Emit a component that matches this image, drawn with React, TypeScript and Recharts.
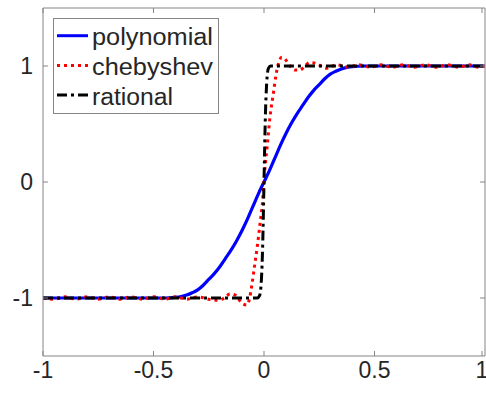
import React from 'react';
import { LineChart, Line, XAxis, YAxis, Legend } from 'recharts';

const polyX = [-1, -0.6, -0.5, -0.45, -0.4, -0.375, -0.35, -0.325, -0.3, -0.275, -0.25, -0.225, -0.2, -0.175, -0.15, -0.125, -0.1, -0.075, -0.05, -0.025, 0, 0.025, 0.05, 0.075, 0.1, 0.125, 0.15, 0.175, 0.2, 0.225, 0.25, 0.275, 0.3, 0.325, 0.35, 0.375, 0.4, 0.45, 0.5, 0.6, 1];
const polyY = [-1, -1, -1, -1, -0.995, -0.988, -0.975, -0.955, -0.93, -0.89, -0.84, -0.79, -0.73, -0.66, -0.59, -0.51, -0.42, -0.32, -0.21, -0.1, 0, 0.1, 0.21, 0.32, 0.42, 0.51, 0.59, 0.66, 0.73, 0.79, 0.84, 0.89, 0.93, 0.955, 0.975, 0.988, 0.995, 1, 1, 1, 1];

const chebX = [-1, -0.95, -0.9, -0.85, -0.8, -0.75, -0.7, -0.65, -0.6, -0.55, -0.5, -0.45, -0.4, -0.35, -0.3, -0.25, -0.207, -0.18, -0.154, -0.13, -0.1, -0.078, -0.065, -0.056, -0.041, -0.03, -0.018, -0.008, 0.005, 0.015, 0.027, 0.042, 0.055, 0.065, 0.08, 0.095, 0.11, 0.14, 0.163, 0.185, 0.208, 0.24, 0.28, 0.33, 0.38, 0.43, 0.48, 0.53, 0.58, 0.63, 0.68, 0.73, 0.78, 0.83, 0.88, 0.93, 0.97, 1];
const chebY = [-1, -1.01, -0.99, -1.01, -0.99, -1.01, -0.99, -1.01, -0.99, -1.01, -0.99, -1.01, -0.99, -1.01, -0.99, -1.01, -1.02, -1.0, -0.965, -0.975, -1.045, -1.06, -1.0, -0.9, -0.7, -0.55, -0.36, -0.2, 0.13, 0.32, 0.56, 0.76, 0.93, 1.02, 1.075, 1.06, 1.02, 0.965, 0.965, 1.0, 1.03, 1.02, 0.98, 1.01, 0.99, 1.01, 0.99, 1.01, 0.99, 1.01, 0.99, 1.01, 0.99, 1.01, 0.99, 1.01, 0.99, 1];

const ratX = [-1, -0.5, -0.03, -0.02, -0.012, -0.006, 0, 0.006, 0.012, 0.02, 0.03, 0.5, 1];
const ratY = [-1, -1, -1, -0.98, -0.85, -0.55, 0, 0.55, 0.85, 0.98, 1, 1, 1];

const seriesNames = ['polynomial', 'chebyshev', 'rational'];
const seriesColors = ['#0000ff', '#ff0000', '#000000'];
const seriesDash = ['', '3 4', '10 4 3 4'];
const legendTextWidths = [121, 121, 81];

const xTicks = [-1, -0.5, 0, 0.5, 1];
const xTickLabels = ['-1', '-0.5', '0', '0.5', '1'];
const yTicks = [-1, 0, 1];
const yTickLabels = ['-1', '0', '1'];

const toData = (xs: number[], ys: number[]) => xs.map((x, i) => ({ x, y: ys[i] }));
const polyData = toData(polyX, polyY);
const chebData = toData(chebX, chebY);
const ratData = toData(ratX, ratY);

const AXIS = '#858585';
const TEXT = '#262626';
const FONT = '"Liberation Sans", Arial, Helvetica, sans-serif';

const BottomTick = (props: any) => {
  const { x, y, payload } = props;
  const i = xTicks.indexOf(payload.value);
  return (
    <g>
      <line x1={x} x2={x} y1={y} y2={y - 5} stroke={AXIS} />
      <text x={x} y={y + 22} textAnchor="middle" fontSize={23} fill={TEXT} fontFamily={FONT}>
        {xTickLabels[i]}
      </text>
    </g>
  );
};
const TopTick = (props: any) => {
  const { x, y } = props;
  return <line x1={x} x2={x} y1={y} y2={y + 5} stroke={AXIS} />;
};
const LeftTick = (props: any) => {
  const { x, y, payload } = props;
  const i = yTicks.indexOf(payload.value);
  return (
    <g>
      <line x1={x} x2={x + 5} y1={y} y2={y} stroke={AXIS} />
      <text x={x - 10} y={y + 8.2} textAnchor="end" fontSize={23} fill={TEXT} fontFamily={FONT}>
        {yTickLabels[i]}
      </text>
    </g>
  );
};
const RightTick = (props: any) => {
  const { x, y } = props;
  return <line x1={x} x2={x - 5} y1={y} y2={y} stroke={AXIS} />;
};

const renderLegend = () => (
  <svg width={166} height={96} style={{ display: 'block' }}>
    <rect x={0.5} y={0.5} width={165} height={95} fill="#ffffff" stroke={AXIS} />
    {seriesNames.map((name, i) => {
      const ly = 17.7 + i * 29.7;
      const ty = 26.5 + i * 30;
      return (
        <g key={name}>
          <line x1={4} x2={35} y1={ly} y2={ly} stroke={seriesColors[i]} strokeWidth={3} strokeDasharray={seriesDash[i] || undefined} />
          <text x={39} y={ty} fontSize={23} fill={TEXT} fontFamily={FONT} textLength={legendTextWidths[i]} lengthAdjust="spacingAndGlyphs">
            {name}
          </text>
        </g>
      );
    })}
  </svg>
);

export default function App() {
  return (
    <div style={{ position: 'absolute', left: 0, top: 0, width: 486, height: 393, background: '#fff' }}>
      <LineChart width={486} height={393} margin={{ top: 0, right: 0, bottom: 0, left: 0 }}>
        <XAxis xAxisId="b" dataKey="x" type="number" domain={[-1, 1]} ticks={xTicks} orientation="bottom" height={37}
          axisLine={{ stroke: AXIS }} tickLine={false} tickSize={0} tickMargin={0} tick={<BottomTick />} allowDataOverflow />
        <XAxis xAxisId="t" dataKey="x" type="number" domain={[-1, 1]} ticks={xTicks} orientation="top" height={8}
          axisLine={{ stroke: AXIS }} tickLine={false} tickSize={0} tickMargin={0} tick={<TopTick />} allowDataOverflow />
        <YAxis yAxisId="l" dataKey="y" type="number" domain={[-1.5, 1.5]} ticks={yTicks} orientation="left" width={43}
          axisLine={{ stroke: AXIS }} tickLine={false} tickSize={0} tickMargin={0} tick={<LeftTick />} allowDataOverflow />
        <YAxis yAxisId="r" dataKey="y" type="number" domain={[-1.5, 1.5]} ticks={yTicks} orientation="right" width={1}
          axisLine={{ stroke: AXIS }} tickLine={false} tickSize={0} tickMargin={0} tick={<RightTick />} allowDataOverflow />
        <Legend layout="vertical" align="center" verticalAlign="middle" content={renderLegend}
          wrapperStyle={{ position: 'absolute', left: 53, top: 18, width: 166, height: 96 }} />
        <Line xAxisId="b" yAxisId="l" data={polyData} dataKey="y" name={seriesNames[0]} type="monotone" stroke={seriesColors[0]}
          strokeWidth={3.2} dot={false} isAnimationActive={false} />
        <Line xAxisId="b" yAxisId="l" data={chebData} dataKey="y" name={seriesNames[1]} type="monotone" stroke={seriesColors[1]}
          strokeWidth={3} strokeDasharray={seriesDash[1]} dot={false} isAnimationActive={false} />
        <Line xAxisId="b" yAxisId="l" data={ratData} dataKey="y" name={seriesNames[2]} type="monotone" stroke={seriesColors[2]}
          strokeWidth={3} strokeDasharray={seriesDash[2]} dot={false} isAnimationActive={false} />
      </LineChart>
    </div>
  );
}
